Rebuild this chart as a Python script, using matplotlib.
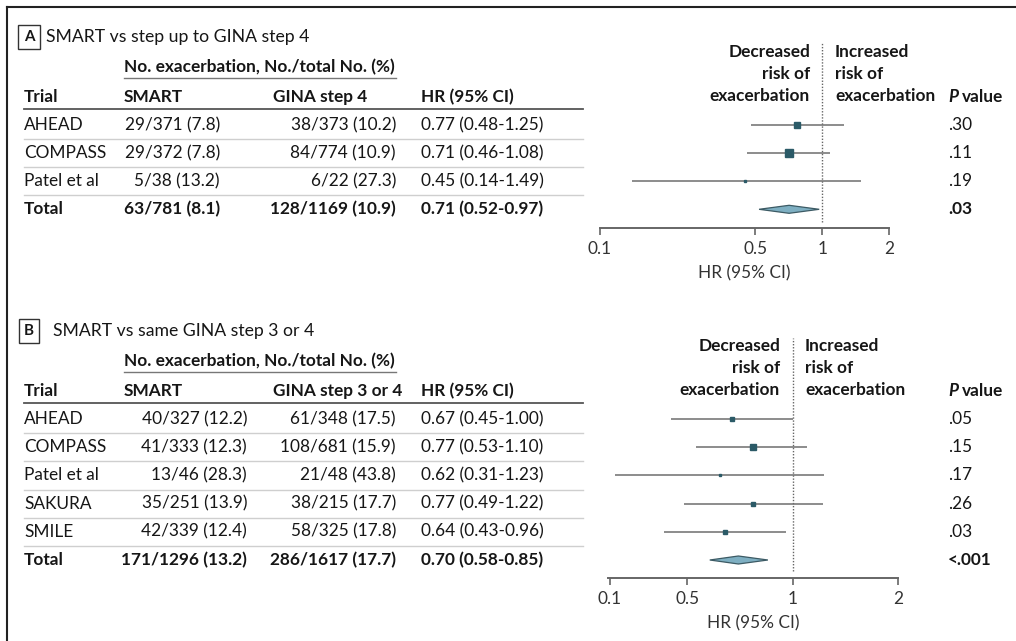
import matplotlib
matplotlib.use("Agg")
import matplotlib.pyplot as plt
from matplotlib.lines import Line2D
from matplotlib.patches import Polygon
from matplotlib.text import Annotation

# ---------- data ----------
a_trials = ["AHEAD", "COMPASS", "Patel et al", "Total"]
a_smart = ["29/371 (7.8)", "29/372 (7.8)", "5/38 (13.2)", "63/781 (8.1)"]
a_gina = ["38/373 (10.2)", "84/774 (10.9)", "6/22 (27.3)", "128/1169 (10.9)"]
a_hr = [0.77, 0.71, 0.45, 0.71]
a_lo = [0.48, 0.46, 0.14, 0.52]
a_hi = [1.25, 1.08, 1.49, 0.97]
a_weight = [36, 60, 4]
a_p = [".30", ".11", ".19", ".03"]

b_trials = ["AHEAD", "COMPASS", "Patel et al", "SAKURA", "SMILE", "Total"]
b_smart = ["40/327 (12.2)", "41/333 (12.3)", "13/46 (28.3)", "35/251 (13.9)",
           "42/339 (12.4)", "171/1296 (13.2)"]
b_gina = ["61/348 (17.5)", "108/681 (15.9)", "21/48 (43.8)", "38/215 (17.7)",
          "58/325 (17.8)", "286/1617 (17.7)"]
b_hr = [0.67, 0.77, 0.62, 0.77, 0.64, 0.70]
b_lo = [0.45, 0.53, 0.31, 0.49, 0.43, 0.58]
b_hi = [1.00, 1.10, 1.23, 1.22, 0.96, 0.85]
b_weight = [16, 24, 4, 14, 20]
b_p = [".05", ".15", ".17", ".26", ".03", "<.001"]

a_ticks = [0.1, 0.5, 1, 2]
b_ticks = [0.3, 0.5, 1, 2]          # first tick is printed as 0.1 in the source
tick_labels = ["0.1", "0.5", "1", "2"]

# ---------- style ----------
W, H = 1016, 641
FONT = ["Lato", "DejaVu Sans"]
FS = 12.4
TXT = "#161616"
SQ = "#2b5a67"
DIA = "#7eafc2"
CI = "#6e6e6e"

plt.rcParams["font.family"] = FONT
plt.rcParams["font.size"] = FS
plt.rcParams["text.color"] = TXT

fig = plt.figure(figsize=(W / 100, H / 100), dpi=100)


def fx(x):
    return x / W


def fy(y):
    return 1 - y / H


def txt(x, y, s, **kw):
    kw.setdefault("va", "center")
    return fig.text(fx(x), fy(y), s, **kw)


def hline(x0, x1, y, **kw):
    fig.add_artist(Line2D([fx(x0), fx(x1)], [fy(y), fy(y)], transform=fig.transFigure, **kw))


# frame (top and left edges only)
hline(7, W, 7, color="#222", lw=1.5)
fig.add_artist(Line2D([fx(7), fx(7)], [fy(7), fy(H)], transform=fig.transFigure, color="#222", lw=1.5))


def panel(letter, title, title_y, trials, smart, gina, hr, lo, hi, weight, pvals,
          gina_head, smart_right, row0, pitch, ax_box, xlim, ticks, risk_x, risk_y0):
    # panel title
    txt(29, title_y, letter, ha="center", fontsize=FS - 1.5, weight="bold",
        bbox=dict(boxstyle="square,pad=0.35", fc="white", ec="#333", lw=1))
    txt(46 if letter == "A" else 53, title_y, title, fontsize=FS + 0.3)

    head_y = row0 - pitch
    txt(124, head_y - 30, "No. exacerbation, No./total No. (%)", weight="bold")
    hline(124, 396, head_y - 19, color="#777", lw=1)
    txt(24, head_y, "Trial", weight="bold")
    txt(124, head_y, "SMART", weight="bold")
    txt(273, head_y, gina_head, weight="bold")
    txt(421, head_y, "HR (95% CI)", weight="bold")
    hline(24, 583, head_y + 12, color="#555", lw=1.3)

    n = len(trials)
    ys = [row0 + i * pitch for i in range(n)]
    for i in range(n):
        w = "bold" if i == n - 1 else "normal"
        txt(24, ys[i], trials[i], weight=w)
        txt(smart_right, ys[i], smart[i], ha="right", weight=w)
        txt(396, ys[i], gina[i], ha="right", weight=w)
        txt(421, ys[i], f"{hr[i]:.2f} ({lo[i]:.2f}-{hi[i]:.2f})", weight=w)
        txt(948, ys[i], pvals[i], weight=w)
        if i < n - 1:
            hline(24, 583, ys[i] + pitch / 2, color="#cfcfcf", lw=1)

    # risk labels and P value header
    for k, line in enumerate(["Decreased", "risk of", "exacerbation"]):
        txt(risk_x - 12, risk_y0 + k * 22, line, ha="right", weight="bold")
    for k, line in enumerate(["Increased", "risk of", "exacerbation"]):
        txt(risk_x + 13, risk_y0 + k * 22, line, ha="left", weight="bold")
    p = txt(948, head_y, "P", style="italic", weight="bold")
    fig.add_artist(Annotation("value", xy=(1, 0.5), xycoords=p, xytext=(3, 0),
                              textcoords="offset points", va="center", ha="left",
                              weight="bold", annotation_clip=False))

    # forest axes: x in HR (log), y in pixel rows
    x0, x1, top, bottom = ax_box
    ax = fig.add_axes([fx(x0), fy(bottom), fx(x1) - fx(x0), (bottom - top) / H])
    ax.set_xscale("log")
    ax.set_xlim(*xlim)
    ax.set_ylim(bottom, top)
    ax.patch.set_visible(False)
    for s in ["top", "right", "left"]:
        ax.spines[s].set_visible(False)
    ax.spines["bottom"].set_color("#666")
    ax.spines["bottom"].set_linewidth(1.4)
    ax.set_yticks([])
    ax.xaxis.set_minor_locator(matplotlib.ticker.NullLocator())
    ax.set_xticks(ticks)
    ax.set_xticklabels(tick_labels)
    ax.tick_params(axis="x", direction="out", length=5, width=1.2, color="#666",
                   labelcolor="#333", labelsize=FS, pad=4)
    ax.set_xlabel("HR (95% CI)", fontsize=FS, color="#333", labelpad=6)
    ax.axvline(1, ymin=0.03, ymax=1, color="#666", lw=1, ls=(0, (1, 1.2)))

    for i in range(n - 1):
        ax.plot([lo[i], hi[i]], [ys[i], ys[i]], color=CI, lw=1.1, solid_capstyle="butt",
                clip_on=False, zorder=2)
        ax.plot(hr[i], ys[i], marker="s", ms=0.75 * weight[i] ** 0.5, color=SQ, mec=SQ,
                ls="none", clip_on=False, zorder=3)
    yt = ys[-1]
    ax.add_patch(Polygon([(lo[-1], yt), (hr[-1], yt - 4), (hi[-1], yt), (hr[-1], yt + 4)],
                         closed=True, fc=DIA, ec="#3c5a64", lw=0.9, zorder=3))
    return ax


panel("A", "SMART vs step up to GINA step 4", 37, a_trials, a_smart, a_gina,
      a_hr, a_lo, a_hi, a_weight, a_p, "GINA step 4", 220, 125, 28.1,
      (600, 889, 43, 228), (0.1, 2.0), a_ticks, 822, 52)

panel("B", "SMART vs same GINA step 3 or 4", 331, b_trials, b_smart, b_gina,
      b_hr, b_lo, b_hi, b_weight, b_p, "GINA step 3 or 4", 247, 419, 28.2,
      (608, 898, 338, 578), (0.297, 2.0), b_ticks, 792, 346)

fig.savefig("out.png", dpi=100)
